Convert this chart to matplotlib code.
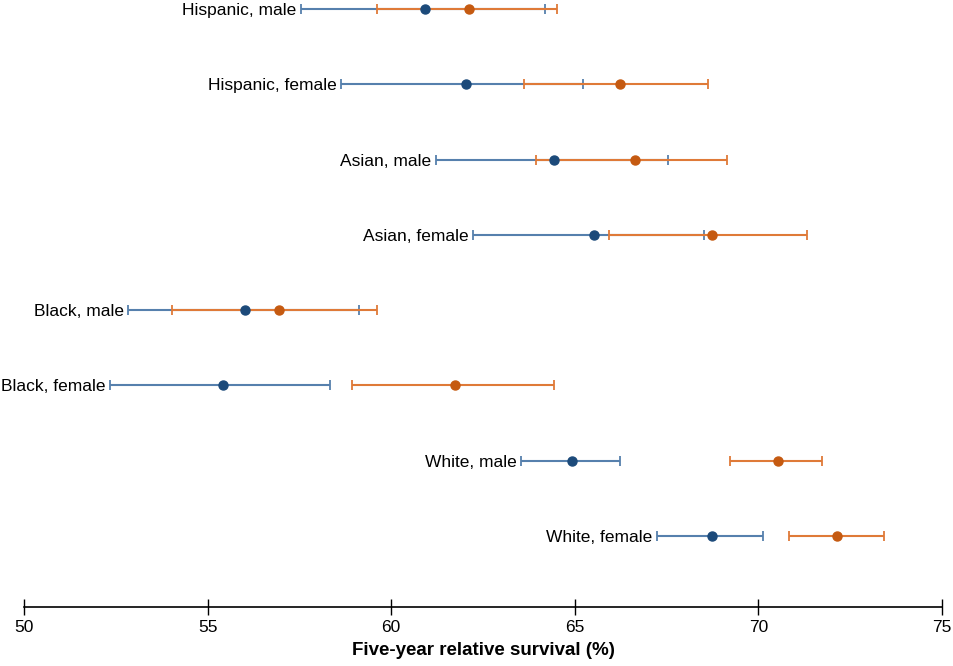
import matplotlib
matplotlib.use("Agg")
import matplotlib.pyplot as plt
import numpy as np

plt.rcParams["font.family"] = ["Liberation Sans", "DejaVu Sans"]

# groups, top to bottom
groups = ["Hispanic, male", "Hispanic, female", "Asian, male", "Asian, female",
          "Black, male", "Black, female", "White, male", "White, female"]

# blue series (point, lower, upper)
blue_est = [60.93, 62.04, 64.43, 65.53, 56.02, 55.43, 64.93, 68.73]
blue_lo = [57.53, 58.63, 61.22, 62.22, 52.84, 52.34, 63.53, 67.23]
blue_hi = [64.20, 65.23, 67.53, 68.53, 59.13, 58.33, 66.23, 70.13]

# orange series (point, lower, upper)
orange_est = [62.13, 66.23, 66.64, 68.74, 56.94, 61.74, 70.53, 72.14]
orange_lo = [59.62, 63.63, 63.93, 65.93, 54.02, 58.92, 69.23, 70.83]
orange_hi = [64.52, 68.63, 69.14, 71.33, 59.62, 64.44, 71.73, 73.43]

xticks = [50, 55, 60, 65, 70, 75]

BLUE_DOT, BLUE_LINE = "#1c4a7a", "#5680ad"
ORANGE_DOT, ORANGE_LINE = "#c55a11", "#df7a38"

fig = plt.figure(figsize=(9.54, 6.66), dpi=100)
ax = fig.add_axes([24 / 954, 59 / 666, 918 / 954, 607 / 666])

y = np.arange(len(groups))[::-1] + 1.0

for est, lo, hi, line in [(blue_est, blue_lo, blue_hi, BLUE_LINE),
                          (orange_est, orange_lo, orange_hi, ORANGE_LINE)]:
    est = np.array(est)
    err = [est - np.array(lo), np.array(hi) - est]
    ax.errorbar(est, y, xerr=err, fmt="none", ecolor=line, elinewidth=1.5,
                capsize=3.5, capthick=1.3)

for est, dot in [(blue_est, BLUE_DOT), (orange_est, ORANGE_DOT)]:
    ax.plot(est, y, "o", color=dot, markersize=6.5, zorder=5)

# labels to the left of each group's CI
for yi, g, bl, ol in zip(y, groups, blue_lo, orange_lo):
    ax.text(min(bl, ol) - 0.12, yi, g, ha="right", va="center_baseline", fontsize=12.5)

ax.set_xlim(50, 75)
ax.set_ylim(1 - 71 / 75.3, 8 + 9 / 75.3)
ax.set_xticks(xticks)
ax.tick_params(axis="x", direction="inout", length=11, width=1, labelsize=12.5, pad=4)
ax.set_yticks([])
for s in ["top", "right", "left"]:
    ax.spines[s].set_visible(False)
ax.spines["bottom"].set_linewidth(1.2)
ax.set_xlabel("Five-year relative survival (%)", fontsize=13.5, fontweight="bold", labelpad=5)

fig.savefig("out.png", dpi=100)
